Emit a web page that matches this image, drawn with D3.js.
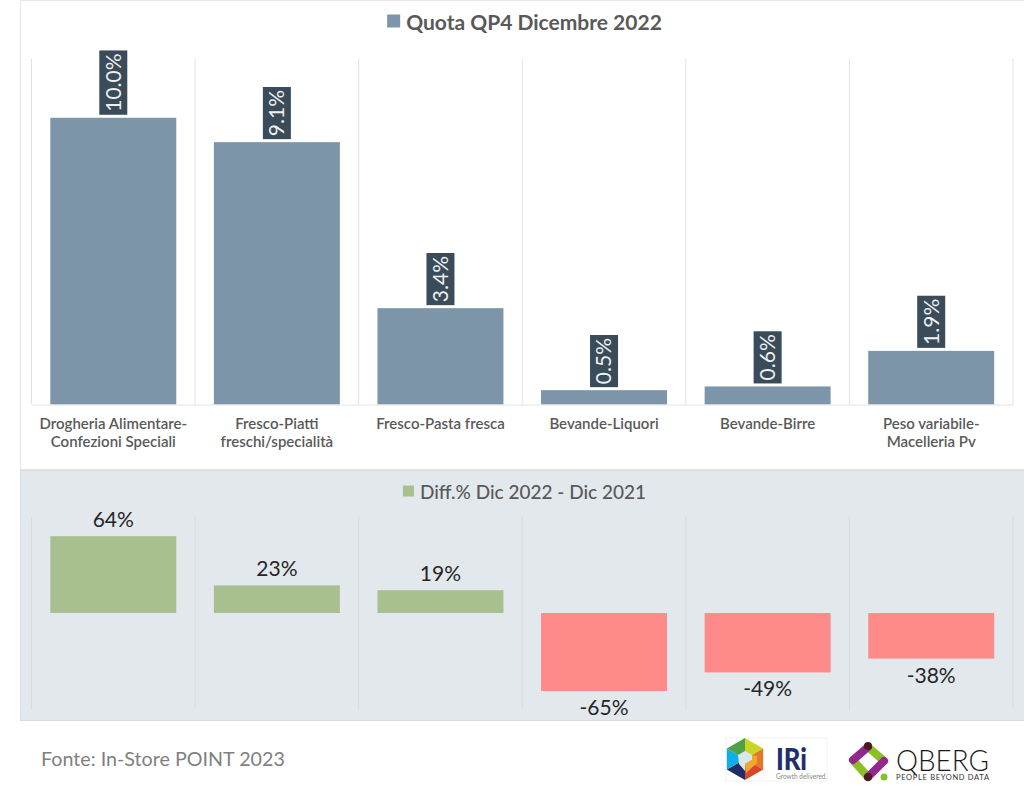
<!DOCTYPE html>
<html>
<head>
<meta charset="utf-8">
<script src="https://cdnjs.cloudflare.com/ajax/libs/d3/7.8.5/d3.min.js"></script>
<style>
	html, body { margin: 0; padding: 0; background: #fff; overflow: hidden; }
	svg { display: block; font-family: Lato, "Open Sans", sans-serif; }
</style>
</head>
<body>
<svg id="plot" width="1024" height="787"></svg>
<script>
	var categories = [
		"Drogheria Alimentare-\nConfezioni Speciali",
		"Fresco-Piatti\nfreschi/specialità",
		"Fresco-Pasta fresca",
		"Bevande-Liquori",
		"Bevande-Birre",
		"Peso variabile-\nMacelleria Pv"
	];
	var quota = [10.0, 9.15, 3.36, 0.5, 0.63, 1.87];
	var quotaLabels = ["10.0%", "9.1%", "3.4%", "0.5%", "0.6%", "1.9%"];
	var diff = [64, 23, 19, -65, -49.5, -38];
	var diffLabels = ["64%", "23%", "19%", "-65%", "-49%", "-38%"];
	var topTitle = "Quota QP4 Dicembre 2022";
	var bottomTitle = "Diff.% Dic 2022 - Dic 2021";
	var source = "Fonte: In-Store POINT 2023";

	var svg = d3.select("#plot");
	var gridColor = "#e2e2e2";

	var x = d3.scaleBand().domain(categories).range([31.5, 1013]).paddingInner(0.23).paddingOuter(0.115);
	var yTop = d3.scaleLinear().domain([0, 12.05]).range([404.5, 59]);
	var yBot = d3.scaleLinear().domain([-80.8, 80]).range([710, 517]);

	// panels
	svg.append("rect").attr("x", 20.5).attr("y", 0.5).attr("width", 1010).attr("height", 469)
		.attr("fill", "#fff").attr("stroke", "#e6e6e6");
	svg.append("rect").attr("x", 20.5).attr("y", 470.5).attr("width", 1010).attr("height", 250)
		.attr("fill", "#e3e8ed").attr("stroke", "#d9dde1");

	function gridlines(y0, y1, color){
		var edges = categories.map(function(d){ return x(d) - x.step() * x.paddingInner() / 2; });
		edges.push(x.range()[1]);
		svg.append("g").selectAll("line").data(edges).enter().append("line")
			.attr("x1", function(d){ return d; })
			.attr("x2", function(d){ return d; })
			.attr("y1", y0)
			.attr("y2", y1)
			.attr("stroke", color);
	}
	gridlines(yTop.range()[1], yTop(0), gridColor);
	gridlines(yBot.range()[1], yBot.range()[0], "#d8dce0");

	function legendTitle(text, cx, cy, size, weight, box){
		var g = svg.append("g");
		var t = g.append("text").attr("y", cy).attr("font-size", size).attr("font-weight", weight)
			.attr("fill", "#595959").attr("dominant-baseline", "central").text(text);
		var w = t.node().getComputedTextLength();
		var left = cx - (w + box + 6) / 2;
		g.append("rect").attr("x", left).attr("y", cy - box / 2).attr("width", box).attr("height", box)
			.attr("fill", text === topTitle ? "#7c95a9" : "#a8bf8f");
		t.attr("x", left + box + 6);
	}
	legendTitle(topTitle, 524.5, 21, 21, 700, 13);
	legendTitle(bottomTitle, 524.5, 491, 19, 500, 11);

	// quota bars
	svg.append("g").selectAll("rect").data(quota).enter().append("rect")
		.attr("x", function(d, i){ return x(categories[i]); })
		.attr("width", x.bandwidth())
		.attr("y", function(d){ return yTop(d); })
		.attr("height", function(d){ return yTop(0) - yTop(d); })
		.attr("fill", "#7c95a9");

	// category axis
	var axis = svg.append("g").attr("transform", "translate(0," + yTop(0) + ")")
		.call(d3.axisBottom(x).tickSize(0).tickPadding(0));
	axis.select(".domain").attr("stroke", gridColor);
	axis.selectAll(".tick text").each(function(d){
		var t = d3.select(this).text(null).attr("y", null).attr("dy", null)
			.attr("font-family", "Lato").attr("font-size", 15).attr("font-weight", 600).attr("fill", "#595959");
		d.split("\n").forEach(function(line, i){
			t.append("tspan").attr("x", 0).attr("y", 24 + i * 18).text(line);
		});
	});

	// rotated value tags
	var tags = svg.append("g").selectAll("g").data(quota).enter().append("g")
		.attr("transform", function(d, i){
			return "translate(" + (x(categories[i]) + x.bandwidth() / 2) + "," + (yTop(d) - 3) + ") rotate(-90)";
		});
	tags.each(function(d, i){
		var g = d3.select(this);
		var r = g.append("rect").attr("y", -14).attr("height", 28).attr("fill", "#3a4b59");
		var t = g.append("text").attr("x", 3).attr("dy", "0.35em").attr("font-size", 21)
			.attr("fill", "#edf1f3").text(quotaLabels[i]);
		r.attr("x", 0).attr("width", t.node().getComputedTextLength() + 6);
	});

	// difference bars
	svg.append("g").selectAll("rect").data(diff).enter().append("rect")
		.attr("x", function(d, i){ return x(categories[i]); })
		.attr("width", x.bandwidth())
		.attr("y", function(d){ return yBot(Math.max(d, 0)); })
		.attr("height", function(d){ return Math.abs(yBot(d) - yBot(0)); })
		.attr("fill", function(d){ return d > 0 ? "#a8bf8f" : "#ff8a8a"; });

	svg.append("g").selectAll("text").data(diff).enter().append("text")
		.attr("x", function(d, i){ return x(categories[i]) + x.bandwidth() / 2; })
		.attr("y", function(d){ return d > 0 ? yBot(d) - 9 : yBot(d) + 24; })
		.attr("text-anchor", "middle")
		.attr("font-size", 21)
		.attr("fill", "#262626")
		.text(function(d, i){ return diffLabels[i]; });

	svg.append("text").attr("x", 41).attr("y", 766).attr("font-size", 19.7)
		.attr("fill", "#7f7f7f").text(source);

	// IRi logo
	var iri = svg.append("g");
	iri.append("rect").attr("x", 726).attr("y", 738).attr("width", 101).attr("height", 43)
		.attr("fill", "#fff").attr("stroke", "#f2f2f2");
	var hexColors = ["#c9d626", "#e07a28", "#d9472b", "#1f2d66", "#0bb0e8", "#4fa047"];
	var hex = iri.append("g").attr("transform", "translate(745,759)");
	hexColors.forEach(function(c, i){
		var a = -Math.PI / 2 + i * Math.PI / 3, b = a + Math.PI / 3;
		hex.append("path")
			.attr("d", "M0,0L" + 21 * Math.cos(a) + "," + 21 * Math.sin(a) + "L" + 21 * Math.cos(b) + "," + 21 * Math.sin(b) + "Z")
			.attr("fill", c);
	});
	hex.append("path").attr("d", "M0,-8L7,-4L7,1L0,5L0,12L-6,5L-7,-4Z").attr("fill", "#dce6ee");
	hex.append("path").attr("d", "M0,5L7,1L7,-4L12,-3L12,4L1,14Z").attr("fill", "#eda92e");
	iri.append("text").attr("x", 776).attr("y", 770).attr("font-size", 30).attr("font-weight", 900)
		.attr("textLength", 31).attr("lengthAdjust", "spacingAndGlyphs")
		.attr("fill", "#1f2f6b").text("IRi");
	iri.append("text").attr("x", 776).attr("y", 779).attr("font-size", 7)
		.attr("textLength", 51).attr("lengthAdjust", "spacingAndGlyphs")
		.attr("fill", "#888").text("Growth delivered.");

	// QBERG logo
	var qb = svg.append("g").attr("fill", "none").attr("stroke-width", 8).attr("stroke-linecap", "round");
	[[868, 747, 884, 761, "#8cbf26"], [853, 760, 868, 777, "#8cbf26"],
	 [868, 747, 853, 760, "#92278f"], [884, 761, 868, 777, "#92278f"]].forEach(function(s){
		qb.append("line").attr("x1", s[0]).attr("y1", s[1]).attr("x2", s[2]).attr("y2", s[3]).attr("stroke", s[4]);
	});
	svg.append("circle").attr("cx", 868).attr("cy", 746).attr("r", 4).attr("fill", "#4a1a1f");
	svg.append("circle").attr("cx", 868).attr("cy", 777).attr("r", 4).attr("fill", "#4a1a1f");
	svg.append("circle").attr("cx", 884).attr("cy", 777).attr("r", 3.5).attr("fill", "#8cbf26");
	svg.append("text").attr("x", 896).attr("y", 771).attr("font-size", 29).attr("font-weight", 300)
		.attr("textLength", 93).attr("lengthAdjust", "spacingAndGlyphs").attr("fill", "#1a1a1a").text("QBERG");
	svg.append("text").attr("x", 896).attr("y", 780).attr("font-size", 7.5).attr("textLength", 93)
		.attr("fill", "#333").text("PEOPLE BEYOND DATA");
</script>
</body>
</html>
